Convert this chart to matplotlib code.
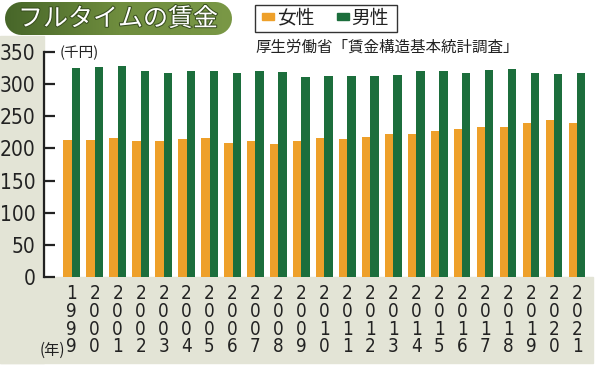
import matplotlib
matplotlib.use("Agg")
import matplotlib.pyplot as plt
import numpy as np
from matplotlib import font_manager
from matplotlib.patches import Rectangle, PathPatch
from matplotlib.path import Path
from matplotlib.colors import LinearSegmentedColormap
import matplotlib.patheffects as pe

years = [str(y) for y in range(1999, 2022)]
women = [213.5, 212.5, 217, 211, 211, 214.5, 216, 208.5, 212, 207.5, 211,
         215.5, 214, 218.5, 223, 222, 226.5, 230.5, 233, 233, 239, 244.5, 239]
men = [325, 327, 327.5, 321, 318, 320, 321, 317, 320, 319, 310.5,
       313, 313, 312, 314, 320, 320, 317, 322, 323.5, 318, 315.5, 317]
yticks = [0, 50, 100, 150, 200, 250, 300, 350]
title = "フルタイムの賃金"
legend_labels = ["女性", "男性"]
source = "厚生労働省「賃金構造基本統計調査」"
unit_y = "(千円)"
unit_x = "(年)"

C_W = "#eea02a"
C_M = "#1c6e3c"
BEIGE = "#e3e4d6"


def pick(cands):
    for fam, stretch, weight in cands:
        try:
            fp = font_manager.FontProperties(family=fam, stretch=stretch, weight=weight)
            f = font_manager.findfont(fp, fallback_to_default=False)
            if any(k in f for k in ("ondensed", "Narrow", "arrow")):
                return fp
        except Exception:
            continue
    return font_manager.FontProperties(family="Liberation Sans")


NUM_Y = pick([("Noto Sans", "condensed", "medium"), ("Noto Sans", "condensed", "normal"),
              ("Liberation Sans Narrow", "normal", "normal"),
              ("DejaVu Sans", "condensed", "normal")])
NUM_X = pick([("Noto Sans", "extra-condensed", "medium"), ("Noto Sans", "extra-condensed", "normal"),
              ("Noto Sans", "condensed", "normal"),
              ("Liberation Sans Narrow", "normal", "normal"),
              ("DejaVu Sans", "condensed", "normal")])

JP = "Noto Sans CJK JP"
plt.rcParams['font.family'] = [JP, 'DejaVu Sans']

W, H = 600, 368
fig = plt.figure(figsize=(6, 3.68), dpi=100)


def fx(px):
    return px / W


def fy(py):
    return 1 - py / H


# beige background
fig.patches.append(Rectangle((fx(0), fy(363)), fx(44), fy(36) - fy(363),
                             transform=fig.transFigure, color=BEIGE, zorder=-10))
fig.patches.append(Rectangle((fx(0), fy(363)), fx(593), fy(277) - fy(363),
                             transform=fig.transFigure, color=BEIGE, zorder=-10))

ax = fig.add_axes([fx(44), fy(277), fx(592) - fx(44), fy(52) - fy(277)], zorder=2)
ax.set_facecolor("none")
x = np.arange(len(years))
bw = 0.36
ax.bar(x - bw / 2, women, bw, color=C_W, zorder=2)
ax.bar(x + bw / 2, men, bw, color=C_M, zorder=2)
ax.set_xlim(-1.206, 22.65)
ax.set_ylim(0, 350)
for s in ["top", "right", "bottom"]:
    ax.spines[s].set_visible(False)
ax.spines["left"].set_linewidth(1.6)
ax.spines["left"].set_color("#222222")
ax.set_yticks(yticks)
ax.set_yticklabels([str(v) for v in yticks], fontproperties=NUM_Y, fontsize=15, color="#222222")
ax.tick_params(axis="y", direction="in", length=8, width=1.6, pad=6, color="#222222")
ax.set_xticks(x)
ax.set_xticklabels(["\n".join(list(y)) for y in years], fontproperties=NUM_X,
                   fontsize=13.5, linespacing=0.92, color="#222222", va="top")
ax.tick_params(axis="x", length=0, pad=5)

fig.text(fx(52), fy(350), unit_x, fontsize=11, ha="center", va="center", color="#222222")
fig.text(fx(60), fy(53), unit_y, fontsize=10.5, ha="left", va="center", color="#222222")
fig.text(fx(255), fy(47), source, fontsize=11.2, ha="left", va="center", color="#222222")

# title pill with gradient
gax = fig.add_axes([fx(5), fy(35), fx(227), fy(2) - fy(35)], zorder=4)
grad = np.linspace(0, 1, 256).reshape(1, -1)
cm = LinearSegmentedColormap.from_list("g", ["#476629", "#6f8d3e", "#7a9846"])
im = gax.imshow(grad, aspect="auto", cmap=cm, extent=[0, 1, 0, 1])
r = 16.5
pw, ph = 227, 33
th = np.linspace(np.pi / 2, 3 * np.pi / 2, 20)
left = [(r + r * np.cos(t), r + r * np.sin(t)) for t in th]
th2 = np.linspace(-np.pi / 2, np.pi / 2, 20)
right = [(pw - r + r * np.cos(t), r + r * np.sin(t)) for t in th2]
pts = left + right + [left[0]]
pts = [(px / pw, py / ph) for px, py in pts]
cpatch = PathPatch(Path(pts, closed=True), transform=gax.transAxes,
                   facecolor="none", edgecolor="none")
gax.add_patch(cpatch)
im.set_clip_path(cpatch)
gax.set_xlim(0, 1)
gax.set_ylim(0, 1)
gax.axis("off")
fig.text(fx(118), fy(19), title, fontsize=18, color="white", ha="center", va="center",
         zorder=6, path_effects=[pe.withStroke(linewidth=1.5, foreground="#3a5020")])

# legend box
fig.patches.append(Rectangle((fx(255), fy(32)), fx(142), fy(5) - fy(32),
                             transform=fig.transFigure, facecolor="white",
                             edgecolor="#333333", linewidth=1.0, zorder=3))
fig.patches.append(Rectangle((fx(262), fy(20)), fx(12), fy(13) - fy(20),
                             transform=fig.transFigure, color=C_W, zorder=4))
fig.text(fx(277), fy(18), legend_labels[0], fontsize=13.5, ha="left", va="center", color="#222222")
fig.patches.append(Rectangle((fx(337), fy(20)), fx(12), fy(13) - fy(20),
                             transform=fig.transFigure, color=C_M, zorder=4))
fig.text(fx(351), fy(18), legend_labels[1], fontsize=13.5, ha="left", va="center", color="#222222")

fig.savefig("out.png", dpi=100)
